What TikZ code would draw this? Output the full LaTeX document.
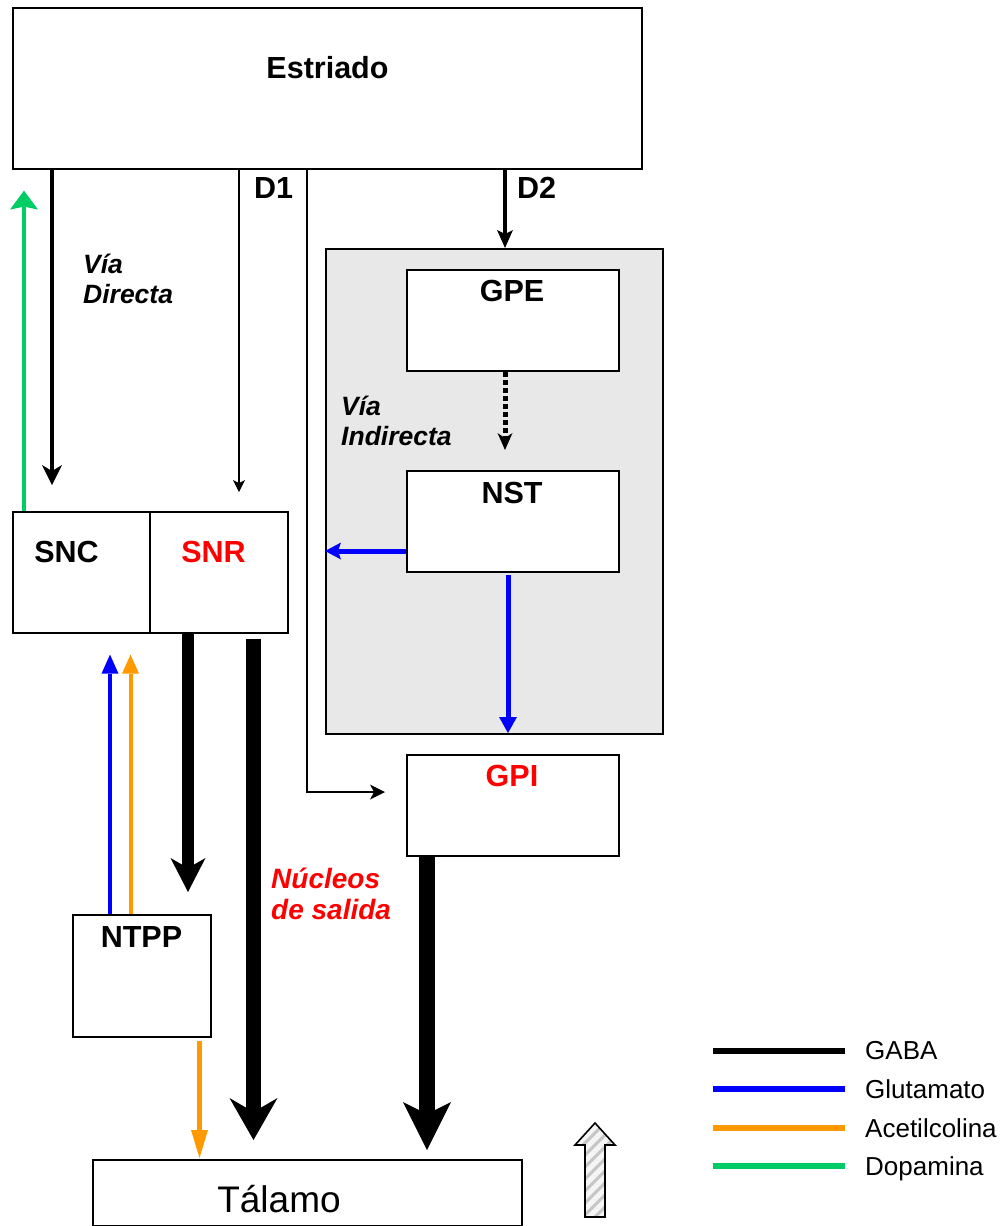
\documentclass[tikz,border=0pt]{standalone}
\usepackage{fontspec}
\setmainfont{Liberation Sans}
\usetikzlibrary{arrows.meta}
\definecolor{glu}{RGB}{0,0,255}
\definecolor{ach}{RGB}{255,153,0}
\definecolor{dop}{RGB}{0,204,102}
\definecolor{grayfill}{RGB}{232,232,232}
\definecolor{redtxt}{RGB}{255,0,0}
\newcommand\lblfont{\fontsize{30.5}{35}\selectfont\bfseries}
\newcommand\itfont{\fontsize{26.5}{30}\selectfont\bfseries\itshape}
\newcommand\legfont{\fontsize{26}{30}\selectfont}
\begin{document}
\begin{tikzpicture}[x=1pt,y=-1pt,
  box/.style={draw=black, line width=1.6pt, fill=white, inner sep=0pt, anchor=north west},
  lbl/.style={font=\lblfont, inner sep=0pt, anchor=base},
  itlbl/.style={font=\itfont, inner sep=0pt, anchor=base west},
  legtxt/.style={font=\legfont, inner sep=0pt, anchor=base west},
]
\useasboundingbox (0,0) rectangle (1004,1226);

% boxes
\node[box, minimum width=629pt, minimum height=161pt] (estr) at (12,7) {};
\node[box, fill=grayfill, minimum width=337pt, minimum height=485pt] (grp) at (325,248) {};
\node[box, minimum width=212pt, minimum height=101pt] (gpe) at (406,269) {};
\node[box, minimum width=212pt, minimum height=101pt] (nst) at (406,470) {};
\node[box, minimum width=212pt, minimum height=101pt] (gpi) at (406,754) {};
\node[box, minimum width=137pt, minimum height=121pt] (snc) at (12,511) {};
\node[box, minimum width=138pt, minimum height=121pt] (snr) at (149,511) {};
\node[box, minimum width=138pt, minimum height=122pt] (ntpp) at (72,914) {};
\node[box, minimum width=429pt, minimum height=66pt] (tal) at (92,1159) {};

% labels
\node[lbl] (testr) at (327.5,78) {Estriado};
\node[lbl, anchor=base west] (td1) at (254,198) {D1};
\node[lbl, anchor=base west] (td2) at (517,198) {D2};
\node[lbl] (tgpe) at (512,301) {GPE};
\node[lbl] (tnst) at (512,503) {NST};
\node[lbl, text=redtxt] (tgpi) at (512,786) {GPI};
\node[lbl] (tsnc) at (66.5,562) {SNC};
\node[lbl, text=redtxt] (tsnr) at (213.5,562) {SNR};
\node[lbl] (tntpp) at (141.5,947) {NTPP};
\node[inner sep=0pt, anchor=base, font=\fontsize{37}{40}\selectfont] (ttal) at (279,1212) {Tálamo};
\node[itlbl] (tvd) at (83,273) {\begin{tabular}[t]{@{}l@{}}Vía\\Directa\end{tabular}};
\node[itlbl] (tvi) at (341,415) {\begin{tabular}[t]{@{}l@{}}Vía\\Indirecta\end{tabular}};
\node[itlbl, text=redtxt, font=\fontsize{28}{31}\selectfont\bfseries\itshape] (tns) at (271,888) {\begin{tabular}[t]{@{}l@{}}Núcleos\\de salida\end{tabular}};

% connectors from Estriado
\draw[line width=4.5pt, -{Stealth[length=20pt, width=20pt, inset=6pt, line width=0pt]}, shorten >=26pt]
  (estr.south -| 52,0) -- (snc.north -| 52,0);
\draw[line width=1.7pt, -{Stealth[length=12pt, width=12pt, inset=3pt, line width=0pt]}, shorten >=19pt]
  (estr.south -| 239,0) -- (snr.north -| 239,0);
\draw[line width=1.7pt, -{Stealth[length=15pt, width=15pt, inset=4pt, line width=0pt]}, shorten >=21pt]
  (estr.south -| 307,0) |- (gpi.west |- 0,792);
\draw[line width=4pt, -{Stealth[length=18pt, width=16pt, inset=4pt, line width=0pt]}]
  (estr.south -| 505,0) -- (grp.north -| 505,0);
% dopamine
\draw[dop, line width=4.5pt, -{Stealth[length=19pt, width=28pt, inset=3pt, line width=0pt]}, shorten >=21pt]
  (snc.north -| 24,0) -- (estr.south -| 24,0);
% indirect pathway
\draw[line width=5pt, dash pattern=on 5pt off 3pt, -{Stealth[length=17pt, width=15pt, inset=5pt, line width=0pt]}, shorten >=20pt]
  (gpe.south -| 505,0) -- (nst.north -| 505,0);
\draw[glu, line width=5pt, -{Stealth[length=16pt, width=17pt, inset=3pt, line width=0pt]}]
  (nst.west |- 0,551) -- (grp.west |- 0,551);
\draw[glu, line width=5pt, -{Triangle[length=16pt, width=18pt, line width=0pt]}, shorten <=2pt, shorten >=21pt]
  (nst.south -| 508,0) -- (gpi.north -| 508,0);
% output nuclei
\draw[line width=12pt, -{Stealth[length=34pt, width=35pt, inset=10pt, line width=0pt]}, shorten >=22pt]
  (snr.south -| 188,0) -- (ntpp.north -| 188,0);
\draw[line width=15pt, -{Stealth[length=42pt, width=48pt, inset=14pt, line width=0pt]}, shorten <=5pt, shorten >=19pt]
  (snr.south -| 253.5,0) -- (tal.north -| 253.5,0);
\draw[line width=16pt, -{Stealth[length=48pt, width=48pt, inset=12pt, line width=0pt]}, shorten >=9pt]
  (gpi.south -| 427,0) -- (tal.north -| 427,0);
% NTPP
\draw[glu, line width=4pt, -{Triangle[length=19pt, width=17pt, line width=0pt]}, shorten >=21pt]
  (ntpp.north -| 110,0) -- (snc.south -| 110,0);
\draw[ach, line width=4pt, -{Triangle[length=19pt, width=17pt, line width=0pt]}, shorten >=21pt]
  (ntpp.north -| 130.5,0) -- (snc.south -| 130.5,0);
\draw[ach, line width=5pt, -{Triangle[length=28pt, width=17pt, line width=0pt]}, shorten <=3pt, shorten >=1pt]
  (ntpp.south -| 199.5,0) -- (tal.north -| 199.5,0);

% hatched block arrow
\begin{scope}
  \clip (585,1217) -- (585,1145) -- (575,1145) -- (595,1123) -- (615,1145) -- (605,1145) -- (605,1217) -- cycle;
  \fill[gray!8] (570,1115) rectangle (620,1220);
  \foreach \k in {0,...,14} {
    \draw[gray!45, line width=3pt] (560,1120+\k*12) -- (640,1040+\k*12);
  }
\end{scope}
\draw[line width=1.6pt, line join=miter] (585,1217) -- (585,1145) -- (575,1145) -- (595,1123) -- (615,1145) -- (605,1145) -- (605,1217) -- cycle;

% legend
\draw[black, line width=6pt] (713,1051) -- (845,1051);
\draw[glu, line width=6pt] (713,1089) -- (845,1089);
\draw[ach, line width=6pt] (713,1128) -- (845,1128);
\draw[dop, line width=6pt] (713,1166) -- (845,1166);
\node[legtxt] (lg1) at (865,1059) {GABA};
\node[legtxt] (lg2) at (865,1098) {Glutamato};
\node[legtxt] (lg3) at (865,1137) {Acetilcolina};
\node[legtxt] (lg4) at (865,1175) {Dopamina};
\end{tikzpicture}
\end{document}
